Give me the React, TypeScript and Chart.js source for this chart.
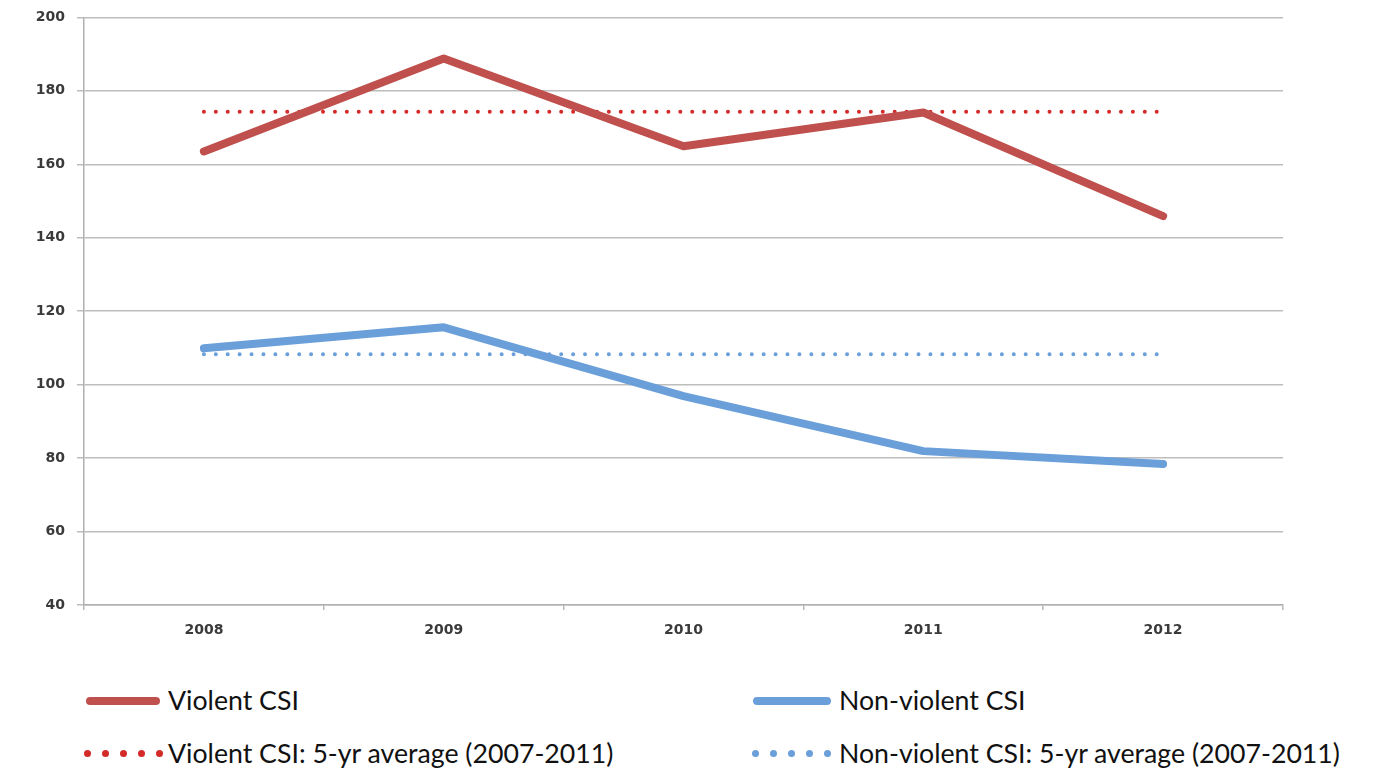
import React, { useEffect, useRef } from "react";
import { Chart, registerables } from "chart.js";

Chart.register(...registerables);

const years = ["2008", "2009", "2010", "2011", "2012"];
const violentCSI = [163.5, 188.8, 164.9, 174.1, 145.9];
const nonViolentCSI = [109.9, 115.6, 96.9, 81.9, 78.4];
const violentAvg = [174.3, 174.3, 174.3, 174.3, 174.3];
const nonViolentAvg = [108.3, 108.3, 108.3, 108.3, 108.3];
const yTicks = [40, 60, 80, 100, 120, 140, 160, 180, 200];

const labels = {
  violent: "Violent CSI",
  nonViolent: "Non-violent CSI",
  violentAvg: "Violent CSI: 5-yr average (2007-2011)",
  nonViolentAvg: "Non-violent CSI: 5-yr average (2007-2011)",
};

const RED = "#c0504d";
const BLUE = "#6a9fd9";
const RED_DOT = "#d42a2a";
const BLUE_DOT = "#6a9fd9";

export default function App() {
  const ref = useRef<HTMLCanvasElement | null>(null);

  useEffect(() => {
    if (!ref.current) return;
    const chart = new Chart(ref.current, {
      type: "line",
      data: {
        labels: years,
        datasets: [
          {
            label: labels.violentAvg,
            data: violentAvg,
            borderColor: RED_DOT,
            borderWidth: 4,
            borderDash: [0.01, 11.9],
            borderCapStyle: "round",
            pointRadius: 0,
            order: 3,
          },
          {
            label: labels.nonViolentAvg,
            data: nonViolentAvg,
            borderColor: BLUE_DOT,
            borderWidth: 4,
            borderDash: [0.01, 11.9],
            borderCapStyle: "round",
            pointRadius: 0,
            order: 4,
          },
          {
            label: labels.violent,
            data: violentCSI,
            borderColor: RED,
            borderWidth: 8,
            borderCapStyle: "round",
            borderJoinStyle: "round",
            pointRadius: 0,
            tension: 0,
            order: 1,
          },
          {
            label: labels.nonViolent,
            data: nonViolentCSI,
            borderColor: BLUE,
            borderWidth: 8,
            borderCapStyle: "round",
            borderJoinStyle: "round",
            pointRadius: 0,
            tension: 0,
            order: 2,
          },
        ],
      },
      options: {
        animation: false,
        responsive: false,
        maintainAspectRatio: false,
        layout: { padding: { left: 0, top: 10, right: 98, bottom: 0 } },
        plugins: { legend: { display: false }, tooltip: { enabled: false } },
        scales: {
          x: {
            type: "category",
            offset: true,
            afterFit: (s: any) => {
              s.height = 52;
            },
            grid: {
              offset: true,
              drawOnChartArea: false,
              drawTicks: true,
              tickLength: 5,
              color: "#b8b8b8",
              lineWidth: 1.5,
            },
            border: { color: "#b0b0b0", width: 1.5 },
            ticks: {
              color: "#3a3a3a",
              font: { family: "DejaVu Sans", size: 14, weight: "bold" },
              padding: 12,
              maxRotation: 0,
            },
          },
          y: {
            min: 40,
            max: 200,
            afterFit: (s: any) => {
              s.width = 84;
            },
            afterBuildTicks: (s: any) => {
              s.ticks = yTicks.map((v) => ({ value: v }));
            },
            grid: {
              color: "#bdbdbd",
              lineWidth: 1.5,
              tickLength: 7,
            },
            border: { color: "#b0b0b0", width: 1.5 },
            ticks: {
              color: "#3a3a3a",
              font: { family: "DejaVu Sans", size: 14, weight: "bold" },
              padding: 12,
            },
          },
        },
      },
    });
    return () => chart.destroy();
  }, []);

  const textStyle: React.CSSProperties = {
    position: "absolute",
    fontFamily: "Lato, 'Noto Sans', sans-serif",
    fontSize: 26.7,
    color: "#111",
    lineHeight: "30px",
    whiteSpace: "nowrap",
  };

  const solid = (color: string, left: number, top: number, width: number) => (
    <div
      style={{
        position: "absolute",
        left,
        top,
        width,
        height: 8,
        borderRadius: 4,
        background: color,
      }}
    />
  );

  const dots = (color: string, left: number, top: number) => (
    <>
      {[0, 1, 2, 3, 4].map((i) => (
        <div
          key={i}
          style={{
            position: "absolute",
            left: left + i * 18,
            top,
            width: 7,
            height: 7,
            borderRadius: 4,
            background: color,
          }}
        />
      ))}
    </>
  );

  return (
    <div
      style={{
        position: "absolute",
        left: 0,
        top: 0,
        width: 1381,
        height: 773,
        background: "#fff",
        overflow: "hidden",
      }}
    >
      <canvas
        ref={ref}
        width={1381}
        height={660}
        style={{ display: "block", position: "absolute", left: 0, top: -3 }}
      />
      {solid(RED, 86, 697, 74)}
      <div style={{ ...textStyle, left: 168, top: 685 }}>{labels.violent}</div>
      {dots(RED_DOT, 84, 750)}
      <div style={{ ...textStyle, left: 168, top: 738 }}>{labels.violentAvg}</div>
      {solid(BLUE, 753, 697, 78)}
      <div style={{ ...textStyle, left: 839, top: 685 }}>{labels.nonViolent}</div>
      {dots(BLUE_DOT, 752, 750)}
      <div style={{ ...textStyle, left: 839, top: 738 }}>{labels.nonViolentAvg}</div>
    </div>
  );
}
